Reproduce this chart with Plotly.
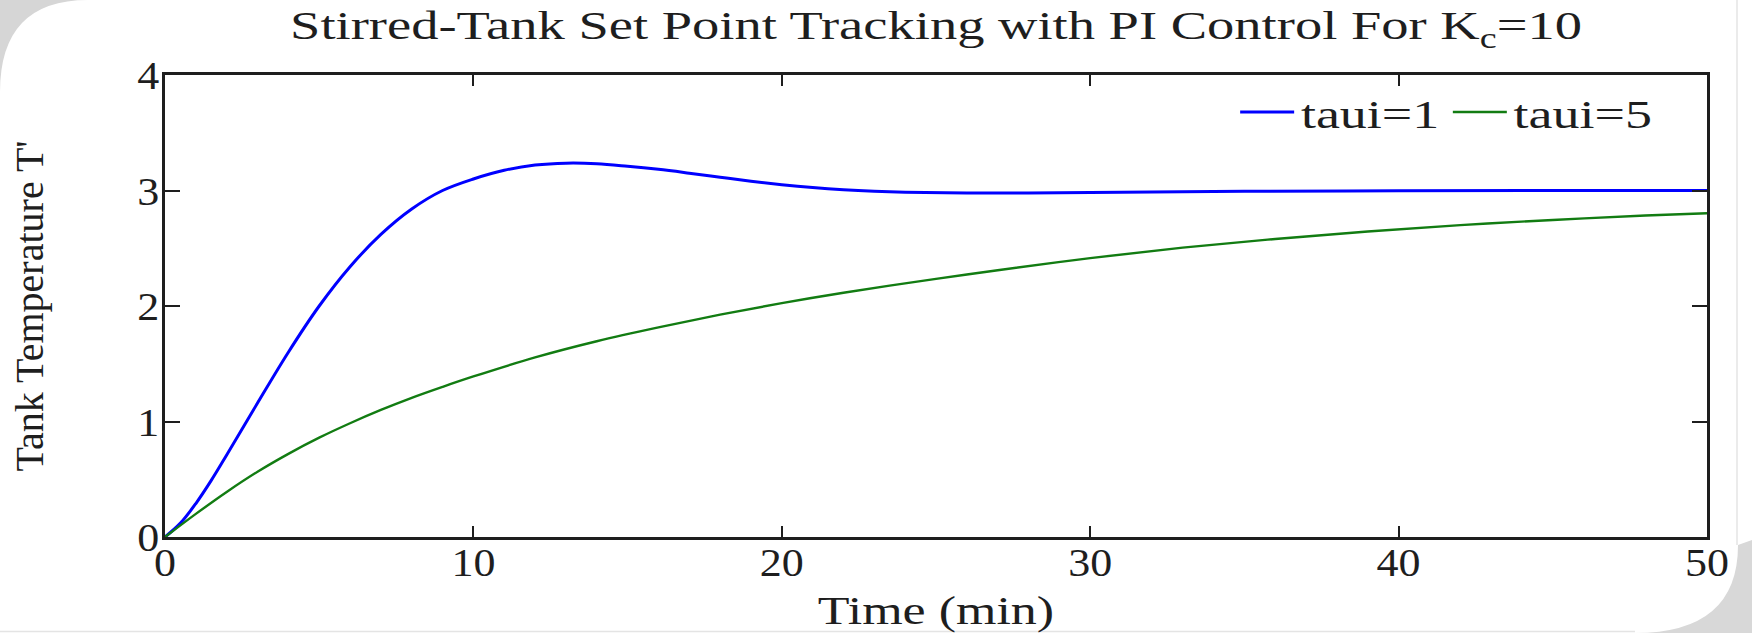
import plotly.graph_objects as go

# ---- data ----
t_taui1 = [0, 0.5, 1, 1.5, 2, 3, 4, 5, 6, 7, 8, 9, 10, 11, 12, 13, 14, 15, 16, 17, 18, 19,
           20, 21, 22, 23, 24, 26, 28, 31, 35, 40, 45, 50]
T_taui1 = [0, 0.12, 0.29, 0.49, 0.71, 1.16, 1.60, 2.00, 2.34, 2.62, 2.84, 3.00, 3.10, 3.175,
           3.22, 3.237, 3.232, 3.21, 3.183, 3.15, 3.115, 3.08, 3.05, 3.025, 3.006, 2.993,
           2.985, 2.978, 2.978, 2.985, 2.993, 2.998, 3.0, 3.0]

t_taui5 = [0, 1, 2, 3, 4, 5, 6, 7, 8, 9, 10, 12, 14, 16, 18, 20, 22, 25, 27, 30,
           33, 36, 39, 42, 45, 48, 50]
T_taui5 = [0, 0.20, 0.39, 0.565, 0.72, 0.86, 0.985, 1.10, 1.205, 1.30, 1.39, 1.555, 1.695,
           1.815, 1.925, 2.025, 2.115, 2.235, 2.31, 2.415, 2.505, 2.58, 2.645, 2.70, 2.745,
           2.783, 2.803]

x_ticks = [0, 10, 20, 30, 40, 50]
y_ticks = [0, 1, 2, 3, 4]

FONT = "Liberation Serif, Times New Roman, serif"
INK = "#1e1e1e"

W, H = 1752, 633
L, R, T, B = 165, 45, 75, 96


def px(x):
    return (x - L) / (W - L - R)


def py(y):
    return (H - B - y) / (H - B - T)


fig = go.Figure()
fig.add_trace(go.Scatter(x=t_taui1, y=T_taui1, mode="lines", name="taui=1",
                         line=dict(color="#0000ff", width=3, shape="spline", smoothing=1.0)))
fig.add_trace(go.Scatter(x=t_taui5, y=T_taui5, mode="lines", name="taui=5",
                         line=dict(color="#127c12", width=2.4, shape="spline", smoothing=1.0)))

axis_common = dict(
    showgrid=False, zeroline=False, showline=True, linewidth=2.5, linecolor=INK,
    mirror="ticks", ticks="inside", tickwidth=2, tickcolor=INK, automargin=False,
    tickfont=dict(family=FONT, size=40, color=INK),
)
fig.update_xaxes(range=[0, 50], tickvals=x_ticks, ticklen=11, ticklabelstandoff=-12,
                 title=dict(text="Time (min)", font=dict(family=FONT, size=40, color=INK),
                            standoff=17),
                 **axis_common)
fig.update_yaxes(range=[0, 4], tickvals=y_ticks, ticklen=15, ticklabelstandoff=-5,
                 title=dict(text="Tank Temperature T'", font=dict(family=FONT, size=40, color=INK),
                            standoff=84),
                 **axis_common)

# slide-card corner shading (background decoration of the screenshot)
shapes = [
    dict(type="path", xref="paper", yref="paper", layer="below",
         path=f"M {px(0)},{py(0)} L {px(88)},{py(0)} Q {px(0)},{py(0)} {px(0)},{py(92)} Z",
         fillcolor="#d6d6d6", line=dict(width=0)),
    dict(type="path", xref="paper", yref="paper", layer="below",
         path=f"M {px(1752)},{py(540)} L {px(1752)},{py(633)} L {px(1635)},{py(633)} "
              f"Q {px(1738)},{py(633)} {px(1738)},{py(545)} Z",
         fillcolor="#d8d8d8", line=dict(width=0)),
    dict(type="line", xref="paper", yref="paper", layer="below",
         x0=px(1737), x1=px(1737), y0=py(0), y1=py(545),
         line=dict(color="#e4e4e4", width=1.5)),
    dict(type="line", xref="paper", yref="paper", layer="below",
         x0=px(0), x1=px(1635), y0=py(631.5), y1=py(631.5),
         line=dict(color="#e4e4e4", width=1.5)),
]

fig.update_layout(
    width=W, height=H,
    margin=dict(l=L, r=R, t=T, b=B, autoexpand=False),
    paper_bgcolor="white", plot_bgcolor="white",
    title=dict(text="Stirred-Tank Set Point Tracking with PI Control For K<sub>c</sub>=10",
               font=dict(family=FONT, size=41, color=INK),
               x=px(936), xref="paper", xanchor="center",
               y=1 - 25 / H, yref="container", yanchor="middle"),
    legend=dict(orientation="h", x=px(1660), xanchor="right", y=py(112), yanchor="middle",
                font=dict(family=FONT, size=40, color=INK), bgcolor="rgba(0,0,0,0)",
                borderwidth=0, itemwidth=40, tracegroupgap=0),
    shapes=shapes,
    showlegend=True,
)

# The reference figure was stretched horizontally; widen the texts the same way
# (they stay real SVG text, only a horizontal scale is added around each anchor).
post = """
document.body.style.margin = '0';
document.body.style.padding = '0';
document.documentElement.style.overflow = 'hidden';
var gd = document.getElementById('{plot_id}');
function stretchText(sel, s) {
  gd.querySelectorAll(sel).forEach(function (t) {
    var x = parseFloat(t.getAttribute('x')) || 0;
    var tr = t.getAttribute('transform') || '';
    t.setAttribute('transform', tr + ' translate(' + x + ',0) scale(' + s + ',1) translate(' + (-x) + ',0)');
  });
}
stretchText('text.gtitle', 1.33);
stretchText('.g-xtitle text', 1.3);
stretchText('.xtick text', 1.1);
stretchText('.ytick text', 1.1);
var lg = gd.querySelector('g.legend');
if (lg) {
  var bg = lg.querySelector('rect.bg');
  var w = bg ? parseFloat(bg.getAttribute('width')) : lg.getBBox().width;
  var tr = lg.getAttribute('transform') || '';
  lg.setAttribute('transform', tr + ' translate(' + w + ',0) scale(1.35,1) translate(' + (-w) + ',0)');
}
"""

fig.write_html("out.html", post_script=post, config={"displayModeBar": False})
